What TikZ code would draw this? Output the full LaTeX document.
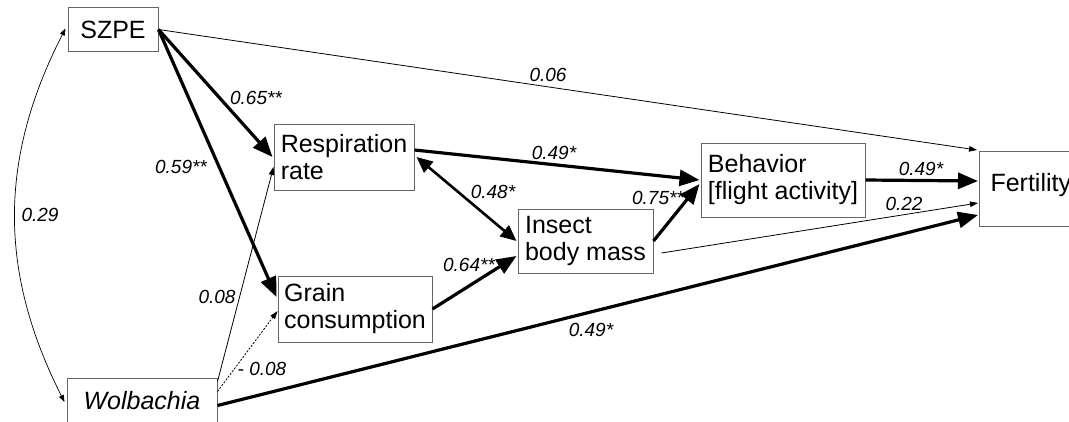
\documentclass[tikz,border=0pt]{standalone}
\usepackage{fontspec}
\setmainfont{Liberation Sans}
\usetikzlibrary{arrows.meta}
\begin{document}
\begin{tikzpicture}[x=1pt,y=-1pt,
 box/.style={draw=black!60, line width=1pt, inner sep=0pt, font=\fontsize{25}{27}\selectfont, align=left},
 lab/.style={font=\fontsize{19}{22}\selectfont\itshape, inner sep=0pt},
 strong/.style={line width=3.2pt, -{Triangle[length=20pt,width=16pt]}},
 weak/.style={line width=0.8pt, -{Triangle[length=8pt,width=5.5pt]}},
]
\useasboundingbox (0,0) rectangle (1069,421);
\clip (0,0) rectangle (1069,421);
\fill[white] (0,0) rectangle (1069,421);

% nodes
\node[box, minimum width=90pt, minimum height=44pt] (szpe) at (113,29.5) {SZPE};
\node[box, minimum width=150pt, minimum height=46pt, font=\fontsize{25}{27}\selectfont\itshape] (wol) at (142,401) {Wolbachia};
\node[box, minimum width=140pt, minimum height=66pt] (resp) at (344,157) {Respiration\\rate};
\node[box, minimum width=154pt, minimum height=66pt] (grain) at (355,309) {Grain\\consumption};
\node[box, minimum width=135pt, minimum height=64pt] (mass) at (585.5,241) {Insect\\body mass};
\node[box, minimum width=164pt, minimum height=74pt] (beh) at (783,180) {Behavior\\{[flight activity]}};
\node[box, anchor=north west, inner xsep=11pt, text width=110pt, text height=18pt, text depth=14pt, minimum height=75pt] (fert) at (979,151) {Fertility};

% correlation
\draw[line width=0.7pt, {Triangle[length=7pt,width=5pt]}-{Triangle[length=7pt,width=5pt]}]
  ([xshift=-2pt,yshift=1pt]szpe.west) to[bend right=27] ([xshift=-2pt,yshift=-1pt]wol.west);

% paths
\draw[weak] (szpe.east) -- ([xshift=-2pt,yshift=1pt]fert.north west);
\draw[strong] (szpe.east) -- ([xshift=-1pt]resp.west);
\draw[strong] (szpe.east) -- ([xshift=-1pt,yshift=12pt]grain.west);
\draw[weak] ([yshift=-4pt]wol.north east) -- ([yshift=-10pt]resp.west);
\draw[weak, dash pattern=on 2pt off 1.5pt] ([yshift=-14pt]wol.north east) -- ([yshift=-2pt]grain.west);
\draw[strong] ([yshift=-28pt]wol.north east) -- ([xshift=-1pt,yshift=-26pt]fert.west);
\draw[strong] ([yshift=7pt]resp.east) -- ([xshift=-1pt]beh.west);
\draw[line width=2.6pt, {Triangle[length=16pt,width=14pt]}-{Triangle[length=16pt,width=14pt]}]
  ([xshift=2pt]resp.east) -- ([xshift=-1pt]mass.west);
\draw[strong] (grain.east) -- ([xshift=-1pt,yshift=-15pt]mass.west);
\draw[strong] (mass.east) -- ([xshift=-1pt,yshift=-4pt]beh.west);
\draw[weak] ([xshift=8pt,yshift=-12pt]mass.east) -- ([xshift=-1pt,yshift=-14pt]fert.west);
\draw[strong] (beh.east) -- ([xshift=-1pt,yshift=8pt]fert.west);

% labels
\node[lab] (l1) at (548,75) {0.06};
\node[lab] (l2) at (256,98) {0.65**};
\node[lab] (l3) at (181,167) {0.59**};
\node[lab] (l4) at (40,215) {0.29};
\node[lab] (l5) at (217,297) {0.08};
\node[lab] (l6) at (262,369) {- 0.08};
\node[lab] (l7) at (591,330) {0.49*};
\node[lab] (l8) at (554,153) {0.49*};
\node[lab] (l9) at (493,192) {0.48*};
\node[lab] (l10) at (469,265) {0.64**};
\node[lab] (l11) at (658,198) {0.75**};
\node[lab] (l12) at (904,204) {0.22};
\node[lab] (l13) at (921,169) {0.49*};
\end{tikzpicture}
\end{document}
